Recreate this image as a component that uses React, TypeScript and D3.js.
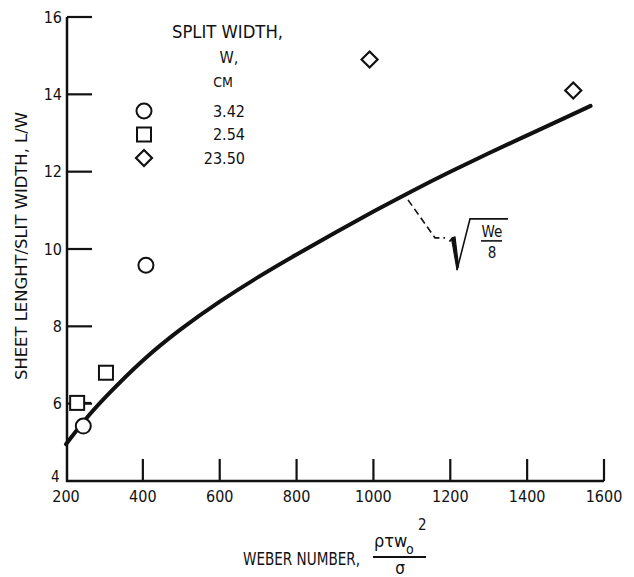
import React, { useEffect, useRef } from 'react';
import * as d3 from 'd3';

// Values
const X_TICKS = [200, 400, 600, 800, 1000, 1200, 1400, 1600];
const Y_TICKS = [4, 6, 8, 10, 12, 14, 16];

// Solid curve, sqrt(We/8)
const CURVE_WE = [200, 250, 300, 400, 500, 600, 700, 800, 900, 1000, 1100, 1200, 1300, 1400, 1500, 1565];
const CURVE_LW = [4.95, 5.6, 6.15, 7.15, 7.95, 8.65, 9.28, 9.86, 10.42, 10.97, 11.5, 12.0, 12.48, 12.94, 13.4, 13.7];

// Measured points per slit width
const CIRCLE_WE = [245, 408];
const CIRCLE_LW = [5.42, 9.58];
const SQUARE_WE = [229, 304];
const SQUARE_LW = [6.02, 6.8];
const SQUARE_ERR = [[216, 265], null];
const DIAMOND_WE = [990, 1520];
const DIAMOND_LW = [14.9, 14.1];

const LEGEND_LABELS = ['3.42', '2.54', '23.50'];
const LEGEND_SHAPES = ['circle', 'square', 'diamond'];

const FONT = '"DejaVu Sans Condensed", "DejaVu Sans", sans-serif';
const INK = '#111';

export default function App() {
  const svgRef = useRef<SVGSVGElement>(null);

  useEffect(() => {
    if (!svgRef.current) return;
    const width = 634;
    const height = 577;

    d3.select(svgRef.current).selectAll('*').remove();
    const svg = d3.select(svgRef.current)
      .attr('width', width)
      .attr('height', height)
      .style('font-family', FONT)
      .style('font-stretch', 'condensed');

    const x = d3.scaleLinear().domain([200, 1600]).range([66, 604]);
    const y = d3.scaleLinear().domain([4, 16]).range([481, 17]);
    const axisX = 67;

    // Axes lines
    svg.append('line')
      .attr('x1', axisX).attr('x2', axisX)
      .attr('y1', y(16)).attr('y2', y(4) + 1)
      .attr('stroke', INK).attr('stroke-width', 2.5);
    svg.append('line')
      .attr('x1', axisX - 1).attr('x2', x(1600))
      .attr('y1', y(4)).attr('y2', y(4))
      .attr('stroke', INK).attr('stroke-width', 2.5);

    // Y ticks pointing inward
    svg.selectAll('.ytick')
      .data(Y_TICKS.filter(d => d > 4))
      .enter()
      .append('line')
      .attr('x1', axisX).attr('x2', axisX + 25)
      .attr('y1', d => y(d)).attr('y2', d => y(d))
      .attr('stroke', INK).attr('stroke-width', 2.2);

    svg.selectAll('.ylab')
      .data(Y_TICKS.filter(d => d > 4))
      .enter()
      .append('text')
      .attr('x', axisX - 5)
      .attr('y', d => y(d))
      .attr('dy', '0.36em')
      .attr('text-anchor', 'end')
      .style('font-size', '16px')
      .style('fill', INK)
      .text(d => d);

    // the "4" sits tucked into the corner
    svg.append('text')
      .attr('x', axisX - 16)
      .attr('y', y(4) + 1)
      .style('font-size', '15px')
      .style('fill', INK)
      .text('4');

    // X ticks pointing up
    svg.selectAll('.xtick')
      .data(X_TICKS.filter(d => d > 200))
      .enter()
      .append('line')
      .attr('x1', d => x(d)).attr('x2', d => x(d))
      .attr('y1', y(4)).attr('y2', y(4) - 22)
      .attr('stroke', INK).attr('stroke-width', 2.2);

    svg.selectAll('.xlab')
      .data(X_TICKS)
      .enter()
      .append('text')
      .attr('x', d => x(d))
      .attr('y', y(4) + 21)
      .attr('text-anchor', 'middle')
      .style('font-size', '16px')
      .style('fill', INK)
      .text(d => d);

    // Curve
    const pts = CURVE_WE.map((w, i) => [w, CURVE_LW[i]] as [number, number]);
    const line = d3.line<[number, number]>()
      .x(d => x(d[0]))
      .y(d => y(d[1]))
      .curve(d3.curveBasis);
    svg.append('path')
      .attr('d', line(pts))
      .attr('fill', 'none')
      .attr('stroke', INK)
      .attr('stroke-width', 4)
      .attr('stroke-linecap', 'round');

    // Markers
    const drawMarker = (g: any, shape: string, cx: number, cy: number) => {
      if (shape === 'circle') {
        g.append('circle')
          .attr('cx', cx).attr('cy', cy).attr('r', 7.5)
          .attr('fill', '#fff').attr('stroke', INK).attr('stroke-width', 2);
      } else if (shape === 'square') {
        g.append('rect')
          .attr('x', cx - 7).attr('y', cy - 7)
          .attr('width', 14).attr('height', 14)
          .attr('fill', '#fff').attr('stroke', INK).attr('stroke-width', 2);
      } else {
        const s = 8;
        g.append('path')
          .attr('d', `M${cx},${cy - s}L${cx + s},${cy}L${cx},${cy + s}L${cx - s},${cy}Z`)
          .attr('fill', '#fff').attr('stroke', INK).attr('stroke-width', 2.2);
      }
    };

    // error bar behind the low square
    SQUARE_ERR.forEach((e, i) => {
      if (!e) return;
      svg.append('line')
        .attr('x1', x(e[0])).attr('x2', x(e[1]))
        .attr('y1', y(SQUARE_LW[i])).attr('y2', y(SQUARE_LW[i]))
        .attr('stroke', INK).attr('stroke-width', 2);
    });

    CIRCLE_WE.forEach((w, i) => drawMarker(svg, 'circle', x(w), y(CIRCLE_LW[i])));
    SQUARE_WE.forEach((w, i) => drawMarker(svg, 'square', x(w), y(SQUARE_LW[i])));
    DIAMOND_WE.forEach((w, i) => drawMarker(svg, 'diamond', x(w), y(DIAMOND_LW[i])));

    // Legend
    const legend = svg.append('g');
    legend.append('text')
      .attr('x', 172).attr('y', 38)
      .attr('textLength', 111).attr('lengthAdjust', 'spacingAndGlyphs')
      .style('font-size', '17px').style('fill', INK)
      .text('SPLIT WIDTH,');
    legend.append('text')
      .attr('x', 229).attr('y', 63)
      .attr('text-anchor', 'middle')
      .style('font-size', '16px').style('fill', INK)
      .text('W,');
    legend.append('text')
      .attr('x', 223).attr('y', 87)
      .attr('text-anchor', 'middle')
      .style('font-size', '14px').style('fill', INK)
      .text('CM');
    LEGEND_LABELS.forEach((lab, i) => {
      const cy = 111 + i * 23.5;
      drawMarker(legend, LEGEND_SHAPES[i], 144, cy);
      legend.append('text')
        .attr('x', 245).attr('y', cy)
        .attr('dy', '0.36em')
        .attr('text-anchor', 'end')
        .style('font-size', '16px').style('fill', INK)
        .text(lab);
    });

    // Annotation: dashed leader to sqrt(We/8)
    const ax = x(1090), ay = y(11.27);
    svg.append('path')
      .attr('d', `M${ax},${ay}L${ax + 27},${ay + 38}L${ax + 37},${ay + 38}`)
      .attr('fill', 'none')
      .attr('stroke', INK).attr('stroke-width', 1.6)
      .attr('stroke-dasharray', '7,4');
    // radical sign: small hook, heavy down-stroke, thin up-stroke, overbar
    svg.append('path')
      .attr('d', `M${ax + 42},${ay + 41}L${ax + 45},${ay + 38}`)
      .attr('fill', 'none')
      .attr('stroke', INK).attr('stroke-width', 2)
      .attr('stroke-linecap', 'round');
    svg.append('path')
      .attr('d', `M${ax + 43.5},${ay + 38.5}L${ax + 47},${ay + 37}L${ax + 50.5},${ay + 66}L${ax + 49},${ay + 70}Z`)
      .attr('fill', INK).attr('stroke', INK).attr('stroke-width', 1.2)
      .attr('stroke-linejoin', 'round');
    svg.append('path')
      .attr('d', `M${ax + 49},${ay + 70}L${ax + 62},${ay + 19}L${ax + 100},${ay + 19}`)
      .attr('fill', 'none')
      .attr('stroke', INK).attr('stroke-width', 1.6);
    svg.append('text')
      .attr('x', ax + 84).attr('y', ay + 37)
      .attr('text-anchor', 'middle')
      .style('font-size', '15px').style('fill', INK)
      .text('We');
    svg.append('line')
      .attr('x1', ax + 73).attr('x2', ax + 94)
      .attr('y1', ay + 41).attr('y2', ay + 41)
      .attr('stroke', INK).attr('stroke-width', 1.6);
    svg.append('text')
      .attr('x', ax + 84).attr('y', ay + 58)
      .attr('text-anchor', 'middle')
      .style('font-size', '15px').style('fill', INK)
      .text('8');

    // Y label
    svg.append('text')
      .attr('transform', `translate(27,246) rotate(-90)`)
      .attr('text-anchor', 'middle')
      .attr('textLength', 268).attr('lengthAdjust', 'spacingAndGlyphs')
      .style('font-size', '16px').style('fill', INK)
      .text('SHEET LENGHT/SLIT WIDTH, L/W');

    // X label with fraction
    svg.append('text')
      .attr('x', 243).attr('y', 565)
      .attr('textLength', 117).attr('lengthAdjust', 'spacingAndGlyphs')
      .style('font-size', '17px').style('fill', INK)
      .text('WEBER NUMBER,');
    svg.append('text')
      .attr('x', 374).attr('y', 547)
      .style('font-size', '18px').style('fill', INK)
      .text('ρτw');
    svg.append('text')
      .attr('x', 406).attr('y', 554)
      .style('font-size', '14px').style('fill', INK)
      .text('o');
    svg.append('text')
      .attr('x', 418).attr('y', 530)
      .style('font-size', '15px').style('fill', INK)
      .text('2');
    svg.append('line')
      .attr('x1', 373).attr('x2', 426)
      .attr('y1', 557).attr('y2', 557)
      .attr('stroke', INK).attr('stroke-width', 1.8);
    svg.append('text')
      .attr('x', 400).attr('y', 574)
      .attr('text-anchor', 'middle')
      .style('font-size', '17px').style('fill', INK)
      .text('σ');
  }, []);

  return (
    <div style={{ position: 'absolute', left: 0, top: 0, background: '#fff' }}>
      <svg ref={svgRef} style={{ display: 'block' }} />
    </div>
  );
}
